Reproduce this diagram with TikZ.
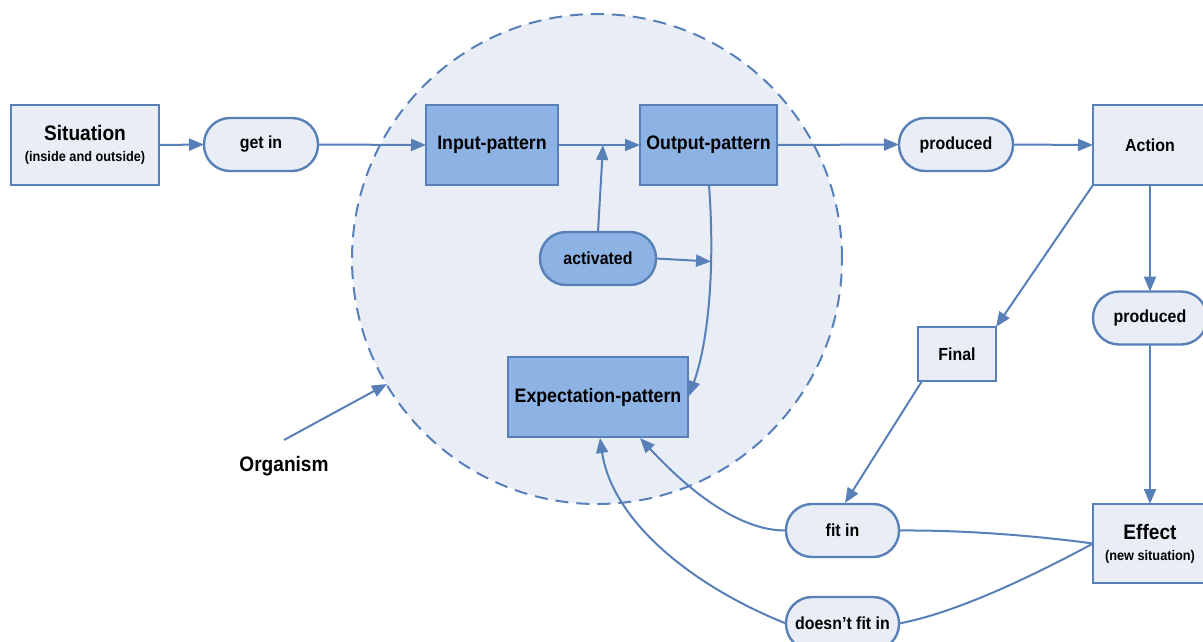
\documentclass[tikz,border=0pt]{standalone}
\usepackage{fontspec}
\setmainfont{Liberation Sans}[FakeStretch=0.91]
\usetikzlibrary{arrows.meta}
\definecolor{lineblue}{RGB}{88,128,184}
\definecolor{lightfill}{RGB}{233,238,246}
\definecolor{darkfill}{RGB}{141,178,228}
\newcommand{\sizebig}{\fontsize{21}{24}\selectfont}
\newcommand{\sizebox}{\fontsize{19.5}{22}\selectfont}
\newcommand{\sizepill}{\fontsize{17.5}{20}\selectfont}
\newcommand{\sizesmall}{\fontsize{14}{16}\selectfont}
\begin{document}
\begin{tikzpicture}[x=1pt,y=-1pt,
  base/.style={draw=lineblue,line width=2.4pt,inner sep=0pt,outer sep=0pt,
    align=center,font=\bfseries\sizebox,text=black},
  lightbox/.style={base,rectangle,fill=lightfill},
  darkbox/.style={base,rectangle,fill=darkfill},
  pill/.style={base,rectangle,fill=lightfill,rounded corners=26pt,font=\bfseries\sizepill},
  darkpill/.style={pill,fill=darkfill},
  conn/.style={draw=lineblue,line width=2pt,-{Triangle[length=15pt,width=12pt]}},
  link/.style={draw=lineblue,line width=2pt}]
\useasboundingbox (0,0) rectangle (1203,641);

% the organism boundary
\node[circle,draw=lineblue,fill=lightfill,line width=2pt,
  dash pattern=on 13pt off 8pt,minimum size=490pt,inner sep=0pt] (orgcircle) at (597,259) {};

% boxes and pills
\node[lightbox,minimum width=148pt,minimum height=80pt] (sit) at (85,145)
  {{\sizebig Situation}\\[-1pt]{\sizesmall (inside and outside)}};
\node[pill,minimum width=114pt,minimum height=53pt] (getin) at (261,144.5) {get in};
\node[darkbox,minimum width=132pt,minimum height=80pt] (inp) at (492,145) {Input-pattern};
\node[darkbox,minimum width=137pt,minimum height=80pt] (outp) at (708.5,145) {Output-pattern};
\node[darkpill,minimum width=116pt,minimum height=53pt] (act) at (598,258.5) {activated};
\node[darkbox,minimum width=180pt,minimum height=80pt] (exp) at (598,397) {Expectation-pattern};
\node[pill,minimum width=114pt,minimum height=53pt] (prod1) at (956,144.5) {produced};
\node[lightbox,minimum width=114pt,minimum height=80pt,font=\bfseries\sizepill] (action) at (1150,145) {Action};
\node[pill,minimum width=114pt,minimum height=53pt] (prod2) at (1150,318) {produced};
\node[lightbox,minimum width=78pt,minimum height=54pt,font=\bfseries\sizepill] (final) at (957,354) {Final};
\node[pill,minimum width=113pt,minimum height=53pt] (fitin) at (842.5,530.5) {fit in};
\node[pill,minimum width=113pt,minimum height=53pt] (dfit) at (842.5,623.5) {doesn't fit in};
\node[lightbox,minimum width=114pt,minimum height=79pt] (effect) at (1150,543.5)
  {{\sizebig Effect}\\[-1pt]{\sizesmall (new situation)}};
\node[font=\bfseries\sizebig] (orglabel) at (284,466) {Organism};

% free ends of connectors
\coordinate (joinup) at (603,145);
\coordinate (joinside) at (711,261.5);
\coordinate (orgtail) at (284,440);
\coordinate (orgtip) at (387,384);

% main flow
\draw[conn] (sit.east) -- (getin.west);
\draw[conn] (getin.east) -- (inp.west);
\draw[conn] (inp.east) -- (outp.west);
\draw[conn] (outp.east) -- (prod1.west);
\draw[conn] (prod1.east) -- (action.west);
\draw[conn] (action.south) -- (prod2.north);
\draw[conn] (prod2.south) -- (effect.north);
\draw[conn] (action.south west) -- (final.north east);
\draw[conn] (final.south west) ++(4,0) -- (845,503);

% activation
\draw[conn] (act.north) -- (joinup);
\draw[conn] (act.east) -- (joinside);
\draw[conn] (709,185) .. controls (715,265) and (709,340) .. (689,396);

% feedback from the effect
\draw[link] (fitin.east) .. controls (960,530) and (1030,535) .. (effect.west);
\draw[link] (dfit.east) .. controls (960,612) and (1040,572) .. (effect.west);
\draw[conn] (fitin.west) .. controls (740,531) and (690,492) .. (640,438);
\draw[conn] (dfit.west) .. controls (690,585) and (612,520) .. (600,438);

% organism pointer
\draw[conn] (orgtail) -- (orgtip);
\end{tikzpicture}
\end{document}
